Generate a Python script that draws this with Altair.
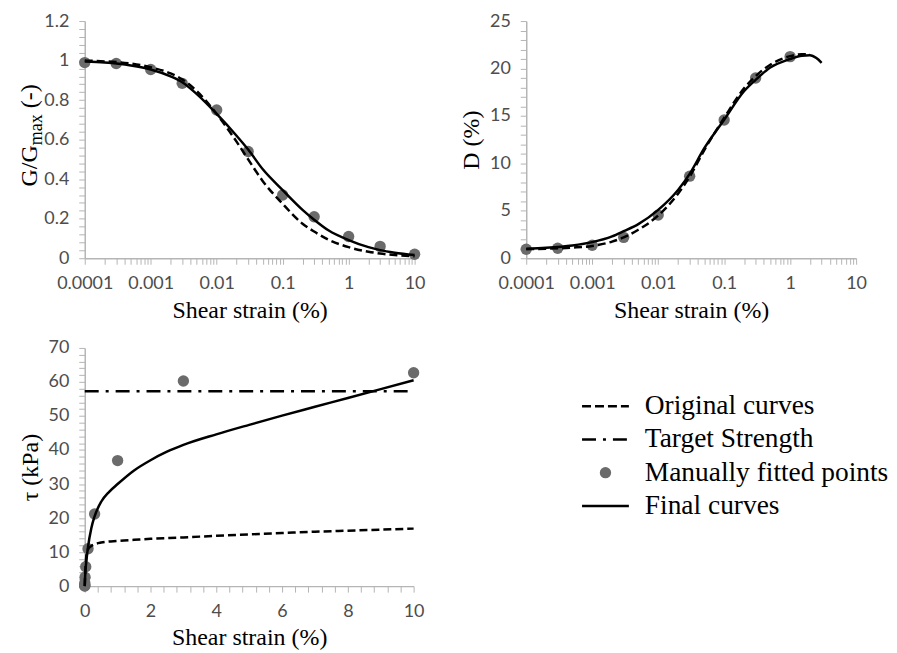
import altair as alt
import pandas as pd

# ---------------- data ----------------
fit_strain = [0.0001, 0.0003, 0.001, 0.003, 0.01, 0.03, 0.1, 0.3, 1, 3, 10]

# G/Gmax panel
gg_strain = [0.0001, 0.0002, 0.0005, 0.001, 0.002, 0.003, 0.005, 0.01, 0.02, 0.03,
             0.05, 0.1, 0.2, 0.3, 0.5, 1, 2, 3, 5, 10]
gg_final = [0.995, 0.99, 0.975, 0.955, 0.92, 0.89, 0.83, 0.73, 0.62, 0.55,
            0.45, 0.345, 0.245, 0.195, 0.14, 0.092, 0.056, 0.041, 0.028, 0.016]
gg_orig = [1.0, 0.996, 0.985, 0.966, 0.935, 0.905, 0.845, 0.73, 0.59, 0.50,
           0.39, 0.275, 0.175, 0.135, 0.093, 0.056, 0.033, 0.024, 0.016, 0.01]
gg_points = [0.99, 0.985, 0.955, 0.885, 0.75, 0.54, 0.32, 0.21, 0.11, 0.06, 0.02]

# Damping panel
d_final_strain = [0.0001, 0.0002, 0.0005, 0.001, 0.002, 0.003, 0.005, 0.01, 0.02, 0.03,
                  0.05, 0.1, 0.2, 0.3, 0.5, 1, 1.5, 2, 2.5, 3]
d_final = [1.0, 1.1, 1.35, 1.7, 2.3, 2.85, 3.6, 5.1, 7.2, 8.9,
           11.6, 14.6, 17.6, 18.8, 20.1, 21.0, 21.35, 21.4, 21.1, 20.6]
d_orig_strain = [0.0001, 0.0002, 0.0005, 0.001, 0.002, 0.003, 0.005, 0.01, 0.02, 0.03,
                 0.05, 0.1, 0.2, 0.3, 0.5, 1, 1.5, 2]
d_orig = [0.95, 1.0, 1.12, 1.3, 1.75, 2.2, 3.0, 4.5, 6.8, 8.6,
          11.4, 14.8, 17.9, 19.2, 20.4, 21.3, 21.5, 21.5]
d_points = [0.95, 1.05, 1.37, 2.2, 4.55, 8.65, 14.57, 19.0, 21.25]

# Stress-strain panel
tau_final_strain = [0, 0.01, 0.03, 0.05, 0.1, 0.2, 0.3, 0.5, 0.75, 1, 1.5, 2, 2.5, 3,
                    4, 5, 6, 7, 8, 9, 10]
tau_final = [0, 2.5, 5.5, 7.5, 11.5, 17.0, 20.5, 24.8, 27.8, 30.0, 34.0, 37.0, 39.5, 41.5,
             44.6, 47.4, 50.1, 52.7, 55.3, 57.9, 60.5]
tau_orig_strain = [0, 0.01, 0.03, 0.05, 0.1, 0.2, 0.3, 0.5, 1, 1.5, 2, 3, 4, 5, 6, 7, 8, 9, 10]
tau_orig = [0, 3.0, 6.5, 9.0, 10.8, 11.8, 12.3, 12.8, 13.3, 13.6, 13.9, 14.3, 14.8, 15.2,
            15.6, 16.0, 16.3, 16.6, 16.9]
tau_points = [0.03, 0.1, 0.3, 0.9, 2.6, 5.7, 11.0, 21.2, 36.9, 60.3, 62.7]
target_strain = [0, 10]
target_tau = [57.3, 57.3]

legend_labels = ["Original curves", "Target Strength", "Manually fitted points", "Final curves"]
decade_labels = ["0.0001", "0.001", "0.01", "0.1", "1", "10"]

# ---------------- styling ----------------
SERIF = "Liberation Serif"
LABEL_FONT = "Lato"
PT_COLOR = "#6b6b6b"
LW = 2.5
DASH = [8, 4]
DASHDOT = [14, 7, 3, 7]
W, H = 331, 238

log_ticks = [round(k * 10.0 ** e, 6) for e in range(-4, 1) for k in range(1, 10)] + [10]
log_label_expr = "indexof(%s, datum.label) >= 0 ? datum.label : ''" % str(decade_labels)


def log_x(title):
    return alt.X("strain:Q",
                 scale=alt.Scale(type="log", domain=[0.0001, 10], nice=False),
                 axis=alt.Axis(title=title, values=log_ticks, format="~g",
                               labelExpr=log_label_expr, labelOverlap=False,
                               labelFlush=False))


def y_axis(lo, hi, step, major, title):
    n = int(round((hi - lo) / step))
    vals = [round(lo + i * step, 4) for i in range(n + 1)]
    expr = "abs(datum.value / %s - round(datum.value / %s)) < 1e-6 ? datum.label : ''" % (major, major)
    return alt.Y("val:Q", scale=alt.Scale(domain=[lo, hi], nice=False),
                 axis=alt.Axis(title=title, values=vals, format="~g", labelExpr=expr,
                               labelOverlap=False))


def panel(x_enc, y_enc, curves, points, extra=None):
    pts = alt.Chart(points).mark_circle(size=130, color=PT_COLOR, opacity=1).encode(x=x_enc, y=y_enc)
    layers = [pts]
    fin = alt.Chart(curves).transform_filter("datum.series == 'final'").mark_line(
        color="black", strokeWidth=LW, interpolate="monotone").encode(x=x_enc, y=y_enc, order="ord:Q")
    org = alt.Chart(curves).transform_filter("datum.series == 'orig'").mark_line(
        color="black", strokeWidth=LW, strokeDash=DASH, interpolate="monotone").encode(
        x=x_enc, y=y_enc, order="ord:Q")
    layers += [org, fin]
    if extra is not None:
        layers += extra
    return layers


def curve_df(s1, v1, s2, v2):
    return pd.DataFrame({
        "strain": list(s1) + list(s2),
        "val": list(v1) + list(v2),
        "series": ["final"] * len(s1) + ["orig"] * len(s2),
        "ord": list(range(len(s1))) + list(range(len(s2))),
    })


# ---- top-left: G/Gmax ----
gg_curves = curve_df(gg_strain, gg_final, gg_strain, gg_orig)
gg_pts = pd.DataFrame({"strain": fit_strain, "val": gg_points})
tl_layers = panel(log_x("Shear strain (%)"), y_axis(0, 1.2, 0.04, 0.2, None), gg_curves, gg_pts)

title_parts = pd.DataFrame({"t": ["G/G", "max", "(-)"]})
t_main = alt.Chart(title_parts).transform_filter("datum.t == 'G/G'").mark_text(
    angle=270, align="left", baseline="alphabetic", font=SERIF, fontSize=24, color="black").encode(
    text="t:N", x=alt.value(-48), y=alt.value(166))
t_sub = alt.Chart(title_parts).transform_filter("datum.t == 'max'").mark_text(
    angle=270, align="left", baseline="alphabetic", font=SERIF, fontSize=18, color="black").encode(
    text="t:N", x=alt.value(-43), y=alt.value(124.5))
t_end = alt.Chart(title_parts).transform_filter("datum.t == '(-)'").mark_text(
    angle=270, align="left", baseline="alphabetic", font=SERIF, fontSize=24, color="black").encode(
    text="t:N", x=alt.value(-48), y=alt.value(87.5))
tl = alt.layer(*tl_layers, t_main, t_sub, t_end).properties(width=W, height=H)

# ---- top-right: D ----
d_curves = curve_df(d_final_strain, d_final, d_orig_strain, d_orig)
d_pts = pd.DataFrame({"strain": fit_strain[:len(d_points)], "val": d_points})
tr = alt.layer(*panel(log_x("Shear strain (%)"), y_axis(0, 25, 1, 5, "D (%)"), d_curves, d_pts)).properties(
    width=W, height=H)

# ---- bottom-left: tau ----
tau_curves = curve_df(tau_final_strain, tau_final, tau_orig_strain, tau_orig)
tau_pts = pd.DataFrame({"strain": fit_strain, "val": tau_points})
lin_ticks = [round(i * 0.4, 2) for i in range(26)]
x_lin = alt.X("strain:Q", scale=alt.Scale(domain=[0, 10], nice=False),
              axis=alt.Axis(title="Shear strain (%)", values=lin_ticks, format="~g",
                            labelExpr="abs(datum.value / 2 - round(datum.value / 2)) < 1e-6 ? datum.label : ''",
                            labelOverlap=False, labelFlush=False))
y_tau = y_axis(0, 70, 2, 10, "τ (kPa)")
target_df = pd.DataFrame({"strain": target_strain, "val": target_tau})
target = alt.Chart(target_df).mark_line(color="black", strokeWidth=LW, strokeDash=DASHDOT).encode(
    x=x_lin, y=y_tau)
bl = alt.layer(*panel(x_lin, y_tau, tau_curves, tau_pts, extra=[target])).properties(width=W - 1, height=H + 1)

# ---- legend panel ----
leg_df = pd.DataFrame({"label": legend_labels})
leg_y = alt.Y("label:N", scale=alt.Scale(type="point", domain=legend_labels, range=[67.5, 167.5], padding=0),
              axis=None)
SX1, SX2, TX = 123, 170, 186
leg_text = alt.Chart(leg_df).mark_text(align="left", baseline="middle", font=SERIF, fontSize=27.5,
                                       color="black").encode(x=alt.value(TX), y=leg_y, text="label:N")
leg_orig = alt.Chart(leg_df).transform_filter("datum.label == 'Original curves'").mark_rule(
    color="black", strokeWidth=LW, strokeDash=[9, 4]).encode(x=alt.value(SX1), x2=alt.value(SX2), y=leg_y)
leg_tgt = alt.Chart(leg_df).transform_filter("datum.label == 'Target Strength'").mark_rule(
    color="black", strokeWidth=LW, strokeDash=DASHDOT).encode(x=alt.value(SX1), x2=alt.value(SX2), y=leg_y)
leg_pt = alt.Chart(leg_df).transform_filter("datum.label == 'Manually fitted points'").mark_circle(
    size=130, color=PT_COLOR, opacity=1).encode(x=alt.value((SX1 + SX2) / 2), y=leg_y)
leg_fin = alt.Chart(leg_df).transform_filter("datum.label == 'Final curves'").mark_rule(
    color="black", strokeWidth=LW).encode(x=alt.value(SX1), x2=alt.value(SX2), y=leg_y)
legend = alt.layer(leg_text, leg_orig, leg_tgt, leg_pt, leg_fin).properties(width=60, height=H + 1)

chart = alt.concat(tl, tr, bl, legend, columns=2, spacing=alt.RowColnumber(row=17, column=34)).properties(
    align="none",
    padding={"left": 10, "top": 3, "right": 0, "bottom": 0},
    background="white",
).configure_view(stroke=None).configure_axis(
    labelFont=LABEL_FONT, labelFontSize=18, labelColor="#4d4d4d",
    titleFont=SERIF, titleFontSize=24, titleFontWeight="normal", titleColor="black",
    domainColor="#b5b5b5", tickColor="#b5b5b5", tickSize=6, domainWidth=1.5, tickWidth=1,
    grid=False, labelPadding=10, titlePadding=6,
)

chart.save("out.html", embed_options={"renderer": "svg", "actions": False})
